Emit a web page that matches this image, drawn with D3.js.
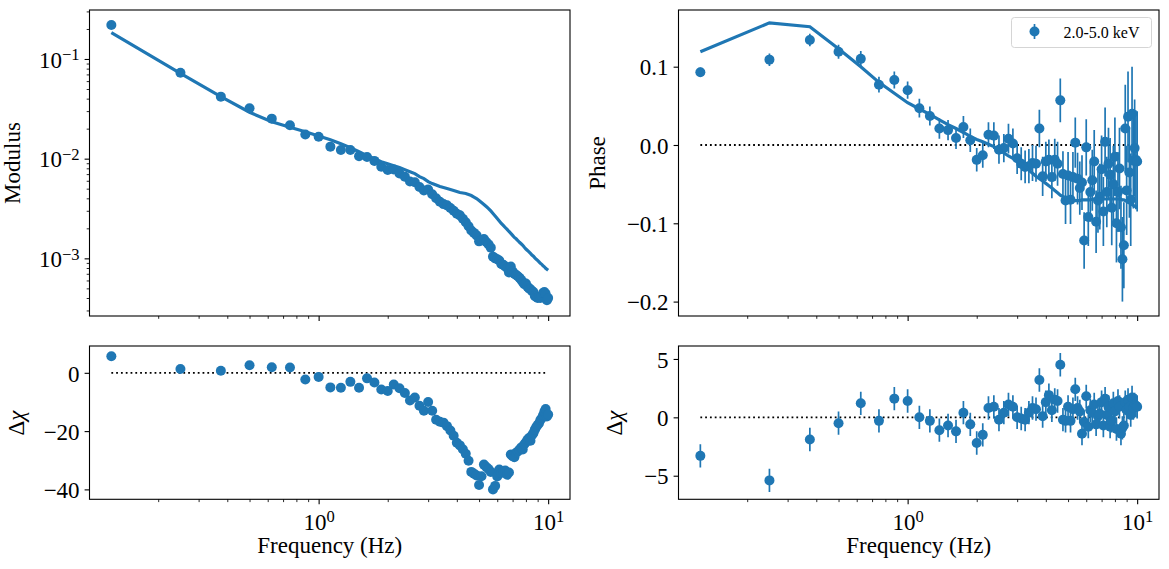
<!DOCTYPE html>
<html>
<head>
<meta charset="utf-8">
<script src="https://cdn.jsdelivr.net/npm/d3@7"></script>
<style>
body { margin: 0; background: #fff; }
svg text { font-family: "Liberation Serif", serif; fill: #000; }
.axis line { stroke: #000; }
.axis text { font-size: 23px; font-family: "Liberation Serif", serif; }
</style>
</head>
<body>
<svg id="chart" width="1169" height="569"></svg>
<script>
// frequencies (Hz)
var freq = [0.125, 0.25, 0.375, 0.5, 0.625, 0.75, 0.875, 1, 1.125, 1.25,
    1.375, 1.5, 1.625, 1.75, 1.875, 2, 2.125, 2.25, 2.375, 2.5,
    2.625, 2.75, 2.875, 3, 3.125, 3.25, 3.375, 3.5, 3.625, 3.75,
    3.875, 4, 4.125, 4.25, 4.375, 4.5, 4.625, 4.75, 4.875, 5,
    5.125, 5.25, 5.375, 5.5, 5.625, 5.75, 5.875, 6, 6.125, 6.25,
    6.375, 6.5, 6.625, 6.75, 6.875, 7, 7.125, 7.25, 7.375, 7.5,
    7.625, 7.75, 7.875, 8, 8.125, 8.25, 8.375, 8.5, 8.625, 8.75,
    8.875, 9, 9.125, 9.25, 9.375, 9.5, 9.625, 9.75, 9.875, 10];

var modData = [0.219, 0.0729, 0.0419, 0.032, 0.0252, 0.0216, 0.0175, 0.0166, 0.0132, 0.0122,
    0.0122, 0.0106, 0.0104, 0.0095, 0.0083, 0.0077, 0.0078, 0.0071, 0.0066, 0.0059,
    0.0058, 0.0052, 0.0048, 0.0049, 0.0044, 0.0040, 0.0037, 0.0035, 0.0034, 0.0032,
    0.0030, 0.0028, 0.0027, 0.0025, 0.0023, 0.0021, 0.0019, 0.0018, 0.0017, 0.00148,
    0.00152, 0.00156, 0.00146, 0.00138, 0.00128, 0.00104, 0.00100, 0.00098, 0.00095, 0.00088,
    0.00086, 0.00083, 0.00080, 0.00072, 0.00083, 0.00074, 0.00070, 0.00068, 0.00066, 0.00064,
    0.00061, 0.00058, 0.00055, 0.00056, 0.00052, 0.00050, 0.00049, 0.00047, 0.00046, 0.00042,
    0.00041, 0.00040, 0.00041, 0.00040, 0.00042, 0.00045, 0.00046, 0.00044, 0.00038, 0.00040];

var modModel = [0.184, 0.0718, 0.042, 0.0292, 0.0235, 0.0207, 0.0186, 0.01687, 0.01549, 0.01413,
    0.01288, 0.01175, 0.01072, 0.0100, 0.00933, 0.00891, 0.00851, 0.00813, 0.00776, 0.00741,
    0.00708, 0.00661, 0.00631, 0.00589, 0.00562, 0.00543, 0.00525, 0.00513, 0.00501, 0.0049,
    0.00479, 0.00468, 0.00457, 0.00452, 0.00447, 0.00437, 0.00427, 0.00412, 0.00398, 0.0038,
    0.00363, 0.00347, 0.00331, 0.00316, 0.00299, 0.00282, 0.00266, 0.00251, 0.00237, 0.00224,
    0.00214, 0.00204, 0.00195, 0.00186, 0.00178, 0.0017, 0.00162, 0.00157, 0.00151, 0.00145,
    0.0014, 0.00135, 0.00129, 0.00124, 0.0012, 0.00116, 0.00112, 0.00108, 0.00105, 0.00101,
    0.000977, 0.000955, 0.000923, 0.000891, 0.000871, 0.000841, 0.000822, 0.000794, 0.000776, 0.000759];

var dchiMod = [5.7, 1.3, 0.7, 2.6, 1.9, 1.8, -2.3, -1.4, -5.0, -5.1,
    -3.1, -5.1, -1.9, -3.3, -5.7, -6.2, -4.0, -5.3, -6.9, -9.5,
    -8.5, -11.3, -13.0, -10.0, -13.0, -16.1, -16.8, -17.1, -18.3, -19.8,
    -21.6, -24.0, -24.9, -26.2, -27.8, -30.2, -34.0, -34.6, -35.2, -38.5,
    -35.5, -31.5, -32.3, -33.0, -34.0, -40.0, -38.8, -35.6, -33.2, -34.4,
    -34.0, -33.5, -35.0, -34.2, -28.0, -28.6, -29.0, -27.4, -27.0, -26.4,
    -25.6, -26.3, -24.5, -23.8, -23.0, -22.4, -23.3, -21.4, -20.7, -19.5,
    -18.6, -17.9, -17.3, -16.2, -15.6, -14.6, -13.4, -12.4, -15.0, -14.3];

var phaseData = [0.093, 0.109, 0.134, 0.119, 0.110, 0.077, 0.083, 0.070, 0.047, 0.037,
    0.021, 0.019, 0.009, 0.023, 0.006, -0.019, -0.013, 0.013, 0.012, -0.006,
    -0.004, 0.008, 0.002, -0.017, -0.024, -0.028, -0.027, -0.023, -0.024, 0.021,
    -0.040, -0.021, -0.019, -0.041, -0.019, -0.024, 0.057, -0.037, -0.071, -0.039,
    -0.070, -0.041, 0.003, -0.043, -0.055, -0.048, -0.122, -0.003, -0.092, -0.060,
    -0.045, -0.021, -0.098, -0.071, -0.066, -0.031, -0.085, 0.004, -0.060, -0.024,
    -0.038, -0.080, -0.050, -0.015, -0.100, -0.060, -0.030, -0.105, -0.146, -0.128,
    0.021, -0.058, 0.036, -0.035, -0.070, 0.040, -0.020, -0.004, -0.019, -0.021];

var phaseErr = [0.006, 0.008, 0.008, 0.009, 0.010, 0.010, 0.011, 0.011, 0.012, 0.012,
    0.013, 0.013, 0.014, 0.014, 0.015, 0.015, 0.016, 0.016, 0.017, 0.018,
    0.018, 0.019, 0.019, 0.020, 0.021, 0.021, 0.022, 0.023, 0.023, 0.024,
    0.025, 0.025, 0.026, 0.027, 0.027, 0.028, 0.028, 0.029, 0.030, 0.030,
    0.031, 0.032, 0.032, 0.033, 0.034, 0.035, 0.036, 0.036, 0.037, 0.038,
    0.039, 0.040, 0.040, 0.041, 0.042, 0.043, 0.044, 0.044, 0.045, 0.046,
    0.047, 0.048, 0.049, 0.050, 0.050, 0.051, 0.052, 0.053, 0.054, 0.055,
    0.056, 0.057, 0.058, 0.058, 0.059, 0.060, 0.061, 0.062, 0.063, 0.064];

var phaseModel = [0.119, 0.156, 0.151, 0.123, 0.100, 0.080, 0.066, 0.054, 0.046, 0.039,
    0.032, 0.026, 0.021, 0.016, 0.011, 0.007, 0.004, 0.001, -0.002, -0.006,
    -0.010, -0.014, -0.017, -0.020, -0.024, -0.028, -0.032, -0.036, -0.040, -0.043,
    -0.046, -0.049, -0.052, -0.055, -0.058, -0.061, -0.064, -0.066, -0.068, -0.070,
    -0.071, -0.071, -0.071, -0.071, -0.071, -0.070, -0.070, -0.070, -0.070, -0.070,
    -0.069, -0.069, -0.069, -0.069, -0.069, -0.069, -0.069, -0.069, -0.069, -0.069,
    -0.069, -0.069, -0.069, -0.069, -0.069, -0.069, -0.069, -0.069, -0.070, -0.070,
    -0.071, -0.072, -0.073, -0.074, -0.075, -0.076, -0.077, -0.078, -0.079, -0.079];

var dchiPhase = [-3.3, -5.4, -1.9, -0.5, 1.2, -0.3, 1.6, 1.4, 0.0, -0.3,
    -1.1, -0.7, -1.2, 0.4, -0.6, -2.2, -1.5, 0.8, 0.9, -0.2,
    0.4, 1.1, 0.9, 0.0, -0.1, -0.2, 0.4, 0.8, 0.7, 3.2,
    0.1, 1.3, 1.9, 0.6, 1.5, 1.4, 4.5, -0.2, -0.3, 0.9,
    -0.3, 0.7, 2.4, 0.8, 0.5, -1.4, -0.4, 1.8, -0.8, 0.6,
    0.4, 1.1, -0.6, 0.1, 0.3, 1.3, -0.7, 1.6, 0.2, 0.9,
    -0.8, -0.3, 1.2, 0.5, -1.0, 1.4, 0.9, -1.4, -0.9, -0.7,
    1.3, 0.6, 1.5, 0.9, 0.2, 1.7, 0.8, 1.1, 1.0, 0.9];
var dchiErr = 1;

var legendLabel = "2.0-5.0 keV";
var modTicks = [1e-3, 1e-2, 1e-1];
var phaseTicks = [-0.2, -0.1, 0.0, 0.1];
var dchiModTicks = [-40, -20, 0];
var dchiPhaseTicks = [-5, 0, 5];

var blue = "#1f77b4";
var svg = d3.select("#chart");
var fDomain = [0.1004, 12.45];

// all 1..9 x 10^e values inside [lo, hi]
function logTicks(lo, hi) {
    var major = [], minor = [];
    for (var e = -5; e <= 2; e++) {
        for (var m = 1; m < 10; m++) {
            var v = +(m * Math.pow(10, e)).toPrecision(6);
            if (v < lo || v > hi) continue;
            if (m === 1) major.push(v); else minor.push(v);
        }
    }
    return { major: major, minor: minor };
}

function supLabel(sel) {
    sel.each(function(d) {
        var t = d3.select(this);
        var e = Math.round(Math.log10(d));
        t.text("10");
        t.append("tspan")
            .attr("dy", "-0.45em")
            .attr("font-size", "0.72em")
            .text(e < 0 ? "\u2212" + (-e) : e);
    });
}

function makePanel(cols, rows, y) {
    var p = { left: cols[0], right: cols[1], top: rows[0], bottom: rows[1] };
    p.x = d3.scaleLog().domain(fDomain).range(cols);
    p.y = y.range([rows[1], rows[0]]);
    p.g = svg.append("g");
    var id = "clip" + Math.round(cols[0]) + "_" + Math.round(rows[0]);
    svg.append("clipPath").attr("id", id).append("rect")
        .attr("x", p.left).attr("y", p.top)
        .attr("width", p.right - p.left).attr("height", p.bottom - p.top);
    p.plot = p.g.append("g").attr("clip-path", "url(#" + id + ")");
    return p;
}

function styleAxis(g, w) {
    g.select(".domain").remove();
    g.selectAll("line").attr("stroke-width", w);
}

function drawXAxis(p, withLabels) {
    var t = logTicks(fDomain[0], fDomain[1]);
    var gMin = p.g.append("g").attr("class", "axis")
        .attr("transform", "translate(0," + p.bottom + ")")
        .call(d3.axisBottom(p.x).tickValues(t.minor).tickSize(2.8).tickFormat(""));
    styleAxis(gMin, 0.85);
    var gMaj = p.g.append("g").attr("class", "axis")
        .attr("transform", "translate(0," + p.bottom + ")")
        .call(d3.axisBottom(p.x).tickValues(t.major).tickSize(4.9).tickPadding(9));
    styleAxis(gMaj, 1.1);
    if (withLabels) gMaj.selectAll(".tick text").call(supLabel);
    else gMaj.selectAll(".tick text").remove();
}

function drawYAxis(p, ticks, fmt) {
    var gMaj = p.g.append("g").attr("class", "axis")
        .attr("transform", "translate(" + p.left + ",0)")
        .call(d3.axisLeft(p.y).tickValues(ticks).tickSize(4.9).tickPadding(5).tickFormat(fmt || null));
    styleAxis(gMaj, 1.1);
    gMaj.selectAll(".tick text").attr("dy", "0.36em");
    return gMaj;
}

function frame(p) {
    p.g.append("rect")
        .attr("x", p.left).attr("y", p.top)
        .attr("width", p.right - p.left).attr("height", p.bottom - p.top)
        .attr("fill", "none").attr("stroke", "#000").attr("stroke-width", 1.1);
}

function zeroLine(p) {
    p.plot.append("line")
        .attr("x1", p.x(freq[0])).attr("x2", p.x(freq[freq.length - 1]))
        .attr("y1", p.y(0)).attr("y2", p.y(0))
        .attr("stroke", "#000").attr("stroke-width", 1.8)
        .attr("stroke-dasharray", "1.8,3");
}

function points(p, vals) {
    p.plot.selectAll(null)
        .data(vals)
        .enter()
        .append("circle")
        .attr("cx", function(d, i) { return p.x(freq[i]); })
        .attr("cy", function(d) { return p.y(d); })
        .attr("r", 5)
        .attr("fill", blue);
}

function errBars(p, vals, errs) {
    p.plot.selectAll(null)
        .data(vals)
        .enter()
        .append("line")
        .attr("x1", function(d, i) { return p.x(freq[i]); })
        .attr("x2", function(d, i) { return p.x(freq[i]); })
        .attr("y1", function(d, i) { return p.y(d - (errs.length ? errs[i] : errs)); })
        .attr("y2", function(d, i) { return p.y(d + (errs.length ? errs[i] : errs)); })
        .attr("stroke", blue).attr("stroke-width", 1.7);
}

function modelLine(p, vals) {
    var line = d3.line()
        .x(function(d, i) { return p.x(freq[i]); })
        .y(function(d) { return p.y(d); });
    p.plot.append("path")
        .datum(vals)
        .attr("d", line)
        .attr("fill", "none")
        .attr("stroke", blue)
        .attr("stroke-width", 3.2);
}

function yLabel(x, y) {
    return svg.append("text")
        .attr("transform", "translate(" + x + "," + y + ") rotate(-90)")
        .attr("text-anchor", "middle")
        .attr("font-size", "23px");
}

var colL = [89.5, 570], colR = [678.5, 1159];
var rowT = [10, 316], rowB = [346, 499.3];

// modulus
var pMod = makePanel(colL, rowT, d3.scaleLog().domain([2.64e-4, 0.31]));
points(pMod, modData);
modelLine(pMod, modModel);
drawXAxis(pMod, false);
var ymt = logTicks(2.64e-4, 0.31);
var gm = pMod.g.append("g").attr("class", "axis")
    .attr("transform", "translate(" + pMod.left + ",0)")
    .call(d3.axisLeft(pMod.y).tickValues(ymt.minor).tickSize(2.8).tickFormat(""));
styleAxis(gm, 0.85);
drawYAxis(pMod, modTicks).selectAll(".tick text").call(supLabel);
frame(pMod);
yLabel(20, 163).text("Modulus");

// phase
var pPh = makePanel(colR, rowT, d3.scaleLinear().domain([-0.2184, 0.1724]));
zeroLine(pPh);
errBars(pPh, phaseData, phaseErr);
points(pPh, phaseData);
modelLine(pPh, phaseModel);
drawXAxis(pPh, false);
drawYAxis(pPh, phaseTicks, d3.format(".1f"));
frame(pPh);
yLabel(605, 163).text("Phase");

// legend
var lg = svg.append("g").attr("transform", "translate(1011.5,17.5)");
lg.append("rect").attr("width", 140).attr("height", 30).attr("rx", 3)
    .attr("fill", "#fff").attr("fill-opacity", 0.8)
    .attr("stroke", "#d5d5d5").attr("stroke-width", 1);
lg.append("line").attr("x1", 23).attr("x2", 23).attr("y1", 6.5).attr("y2", 21.5)
    .attr("stroke", blue).attr("stroke-width", 1.7);
lg.append("circle").attr("cx", 23).attr("cy", 14).attr("r", 5).attr("fill", blue);
lg.append("text").attr("x", 52).attr("y", 20).attr("font-size", "16px").text(legendLabel);

// delta chi for modulus
var pDm = makePanel(colL, rowB, d3.scaleLinear().domain([-43.4, 9.2]));
zeroLine(pDm);
points(pDm, dchiMod);
drawXAxis(pDm, true);
drawYAxis(pDm, dchiModTicks, d3.format("d"));
frame(pDm);
var t1 = yLabel(24, 423);
t1.append("tspan").text("\u0394");
t1.append("tspan").attr("font-style", "italic").text("\u03c7");
svg.append("text").attr("x", (colL[0] + colL[1]) / 2).attr("y", 553)
    .attr("text-anchor", "middle").attr("font-size", "23px").text("Frequency (Hz)");

// delta chi for phase
var pDp = makePanel(colR, rowB, d3.scaleLinear().domain([-7.02, 6.11]));
zeroLine(pDp);
errBars(pDp, dchiPhase, dchiErr);
points(pDp, dchiPhase);
drawXAxis(pDp, true);
drawYAxis(pDp, dchiPhaseTicks, d3.format("d"));
frame(pDp);
var t2 = yLabel(622, 423);
t2.append("tspan").text("\u0394");
t2.append("tspan").attr("font-style", "italic").text("\u03c7");
svg.append("text").attr("x", (colR[0] + colR[1]) / 2).attr("y", 553)
    .attr("text-anchor", "middle").attr("font-size", "23px").text("Frequency (Hz)");
</script>
</body>
</html>
